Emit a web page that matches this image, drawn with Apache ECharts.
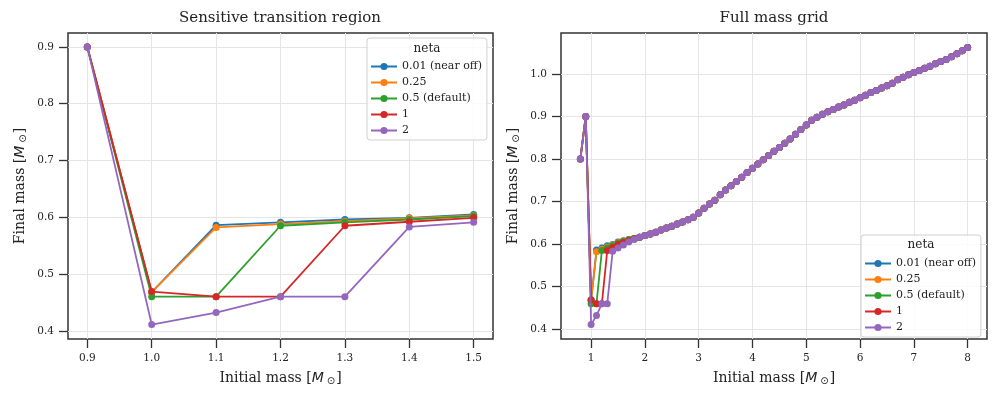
<!DOCTYPE html>
<html>
<head>
<meta charset="utf-8">
<script src="https://cdn.jsdelivr.net/npm/echarts@6/dist/echarts.min.js"></script>
<style>
  html, body { margin: 0; padding: 0; background: #fff; }
  #chart { width: 1000px; height: 400px; }
</style>
</head>
<body>
<div id="chart"></div>
<script>
  // initial mass grid (Msun)
  var initialMass = [0.8, 0.9, 1.0, 1.1, 1.2, 1.3, 1.4, 1.5, 1.6, 1.7, 1.8,
    1.9, 2.0, 2.1, 2.2, 2.3, 2.4, 2.5, 2.6, 2.7, 2.8, 2.9,
    3.0, 3.1, 3.2, 3.3, 3.4, 3.5, 3.6, 3.7, 3.8, 3.9,
    4.0, 4.1, 4.2, 4.3, 4.4, 4.5, 4.6, 4.7, 4.8, 4.9,
    5.0, 5.1, 5.2, 5.3, 5.4, 5.5, 5.6, 5.7, 5.8, 5.9,
    6.0, 6.1, 6.2, 6.3, 6.4, 6.5, 6.6, 6.7, 6.8, 6.9,
    7.0, 7.1, 7.2, 7.3, 7.4, 7.5, 7.6, 7.7, 7.8, 7.9, 8.0];

  var netaNames = ['0.01 (near off)', '0.25', '0.5 (default)', '1', '2'];
  var netaColors = ['#1f77b4', '#ff7f0e', '#2ca02c', '#d62728', '#9467bd'];

  // final mass for 0.8 .. 1.8 Msun, per neta
  var lowNeta001 = [0.8, 0.9, 0.468, 0.586, 0.591, 0.596, 0.599, 0.605, 0.608, 0.611, 0.613];
  var lowNeta025 = [0.8, 0.9, 0.468, 0.582, 0.588, 0.593, 0.598, 0.603, 0.607, 0.610, 0.613];
  var lowNeta05  = [0.8, 0.9, 0.460, 0.460, 0.585, 0.591, 0.596, 0.602, 0.606, 0.610, 0.613];
  var lowNeta1   = [0.8, 0.9, 0.469, 0.460, 0.460, 0.585, 0.592, 0.599, 0.604, 0.608, 0.612];
  var lowNeta2   = [0.8, 0.9, 0.411, 0.432, 0.460, 0.460, 0.583, 0.591, 0.598, 0.605, 0.611];

  // final mass for 1.9 .. 8.0 Msun (same for every neta)
  var highMass = [0.616, 0.620, 0.624, 0.628, 0.633, 0.638, 0.642, 0.647, 0.652, 0.657, 0.663,
    0.673, 0.684, 0.694, 0.703, 0.716, 0.727, 0.737, 0.747, 0.757, 0.768,
    0.778, 0.788, 0.798, 0.808, 0.818, 0.827, 0.837, 0.847, 0.858, 0.869,
    0.880, 0.891, 0.898, 0.905, 0.911, 0.916, 0.922, 0.927, 0.933, 0.938,
    0.944, 0.950, 0.956, 0.961, 0.967, 0.972, 0.978, 0.986, 0.992, 0.998,
    1.003, 1.008, 1.013, 1.018, 1.024, 1.029, 1.034, 1.040, 1.047, 1.054, 1.062];

  var lowSets = [lowNeta001, lowNeta025, lowNeta05, lowNeta1, lowNeta2];

  // tick labels
  var leftTicksX = [0.9, 1.0, 1.1, 1.2, 1.3, 1.4, 1.5];
  var leftTicksY = [0.4, 0.5, 0.6, 0.7, 0.8, 0.9];
  var rightTicksX = [1, 2, 3, 4, 5, 6, 7, 8];
  var rightTicksY = [0.4, 0.5, 0.6, 0.7, 0.8, 0.9, 1.0];

  var serif = 'DejaVu Serif';
  var massRich = {
    m: { fontFamily: 'DejaVu Sans', fontStyle: 'italic', fontSize: 14, color: '#222' },
    s: { fontFamily: 'DejaVu Sans', fontSize: 10, color: '#222', padding: [6, 1, 0, 3] }
  };

  function axisX(grid, min, max, ticks, fmt) {
    return {
      type: 'value', gridIndex: grid, min: min, max: max,
      axisLine: { show: false },
      axisTick: { customValues: ticks, length: 9, lineStyle: { color: '#333', width: 1.3 } },
      axisLabel: { customValues: ticks, formatter: fmt, fontFamily: serif, fontSize: 10.5, color: '#222', margin: 14 },
      splitLine: { show: true, lineStyle: { color: '#e5e5e5', width: 1 } },
      name: 'Initial mass [{m|M}{s|⊙}]', nameLocation: 'middle', nameGap: 31,
      nameTextStyle: { fontFamily: serif, fontSize: 14, color: '#222', rich: massRich }
    };
  }
  function axisY(grid, min, max, ticks) {
    return {
      type: 'value', gridIndex: grid, min: min, max: max,
      axisLine: { show: false },
      axisTick: { customValues: ticks, length: 9, lineStyle: { color: '#333', width: 1.3 } },
      axisLabel: { customValues: ticks, formatter: function (v) { return v.toFixed(1); }, fontFamily: serif, fontSize: 10.5, color: '#222', margin: 14 },
      splitLine: { show: true, lineStyle: { color: '#e5e5e5', width: 1 } },
      name: 'Final mass [{m|M}{s|⊙}]', nameLocation: 'middle', nameGap: 40,
      nameTextStyle: { fontFamily: serif, fontSize: 14, color: '#222', rich: massRich }
    };
  }

  var series = [];
  netaNames.forEach(function (name, i) {
    var full = lowSets[i].concat(highMass);
    var pts = initialMass.map(function (m, k) { return [m, full[k]]; });
    // left panel: 0.9 .. 1.5
    series.push({
      name: name, type: 'line', xAxisIndex: 0, yAxisIndex: 0,
      data: pts.slice(1, 8),
      symbol: 'circle', symbolSize: 7, color: netaColors[i],
      lineStyle: { width: 1.8 }, z: 2 + i
    });
    series.push({
      name: name, type: 'line', xAxisIndex: 1, yAxisIndex: 1,
      data: pts,
      symbol: 'circle', symbolSize: 7, color: netaColors[i],
      lineStyle: { width: 1.8 }, z: 2 + i
    });
  });

  function legendAt(left, top) {
    return {
      data: netaNames, orient: 'vertical', left: left, top: top,
      padding: [22, 5, 3, 3], itemWidth: 26, itemHeight: 9, itemGap: 3,
      textStyle: { fontFamily: serif, fontSize: 11, color: '#222', lineHeight: 13 },
      backgroundColor: 'rgba(255,255,255,0.85)', borderColor: '#d0d0d0', borderWidth: 1, borderRadius: 3,
      selectedMode: false
    };
  }

  var myChart = echarts.init(document.getElementById('chart'));
  var option = {
    animation: false,
    backgroundColor: '#fff',
    title: [
      { text: 'Sensitive transition region', left: 280, top: 11, textAlign: 'center', padding: 0,
        textStyle: { fontFamily: serif, fontSize: 15, fontWeight: 'normal', color: '#222' } },
      { text: 'Full mass grid', left: 774, top: 11, textAlign: 'center', padding: 0,
        textStyle: { fontFamily: serif, fontSize: 15, fontWeight: 'normal', color: '#222' } }
    ],
    grid: [
      { left: 68, right: 507, top: 33, bottom: 61, show: true, borderColor: '#333', borderWidth: 1.5, backgroundColor: 'transparent' },
      { left: 561, right: 13, top: 33, bottom: 61, show: true, borderColor: '#333', borderWidth: 1.5, backgroundColor: 'transparent' }
    ],
    xAxis: [
      axisX(0, 0.87, 1.53, leftTicksX, function (v) { return v.toFixed(1); }),
      axisX(1, 0.44, 8.36, rightTicksX, function (v) { return String(v); })
    ],
    yAxis: [
      axisY(0, 0.3855, 0.9245, leftTicksY),
      axisY(1, 0.377, 1.096, rightTicksY)
    ],
    legend: [legendAt(367, 38), legendAt(861, 235)],
    graphic: [
      { type: 'text', x: 427, y: 49, z: 100,
        style: { text: 'neta', fontFamily: serif, fontSize: 12, fill: '#222', align: 'center', verticalAlign: 'middle' } },
      { type: 'text', x: 921, y: 245, z: 100,
        style: { text: 'neta', fontFamily: serif, fontSize: 12, fill: '#222', align: 'center', verticalAlign: 'middle' } }
    ],
    series: series
  };
  myChart.setOption(option);
</script>
</body>
</html>
